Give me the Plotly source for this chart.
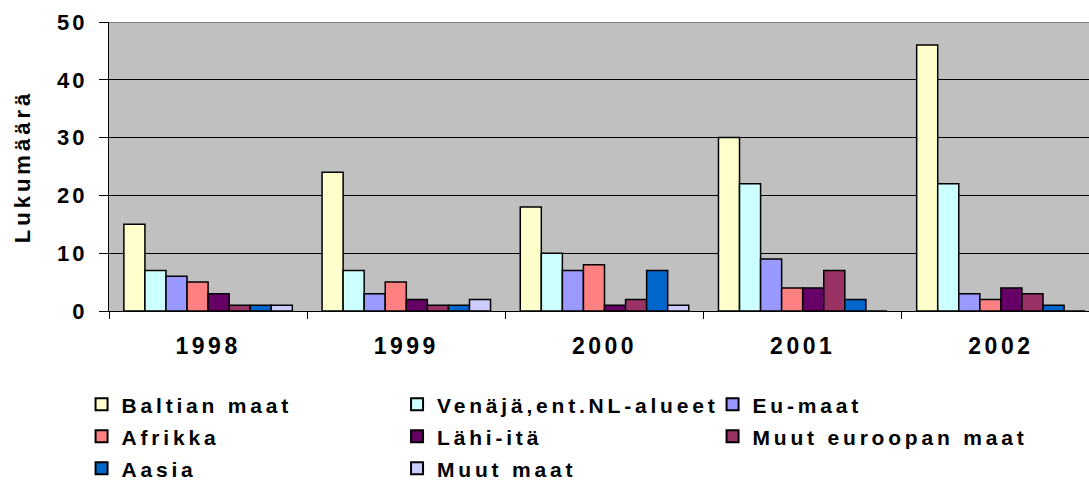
import plotly.graph_objects as go

years = ["1998", "1999", "2000", "2001", "2002"]
series_names = ["Baltian maat", "Venäjä,ent.NL-alueet", "Eu-maat", "Afrikka",
                "Lähi-itä", "Muut euroopan maat", "Aasia", "Muut maat"]
baltian = [15, 24, 18, 30, 46]
venaja = [7, 7, 10, 22, 22]
eu = [6, 3, 7, 9, 3]
afrikka = [5, 5, 8, 4, 2]
lahi_ita = [3, 2, 1, 4, 4]
muut_eur = [1, 1, 2, 7, 3]
aasia = [1, 1, 7, 2, 1]
muut_maat = [1, 2, 1, 0, 0]
y_ticks = [0, 10, 20, 30, 40, 50]
y_title = "Lukumäärä"

values = [baltian, venaja, eu, afrikka, lahi_ita, muut_eur, aasia, muut_maat]
colors = ["#FFFFCC", "#CCFFFF", "#9999FF", "#FF8080",
          "#660066", "#993366", "#0066CC", "#CCCCFF"]

FONT = "Liberation Sans"


def sp(t, ls, size=None):
    st = f"letter-spacing:{ls}px;font-weight:700"
    if size:
        st += f";font-size:{size}px"
    return f'<span style="{st}">{t}</span>'


fig = go.Figure()
for name, vals, col in zip(series_names, values, colors):
    fig.add_trace(go.Bar(
        x=years, y=vals, name=sp(name, 3.8, 21),
        marker=dict(color=col, line=dict(color="black", width=1.5)),
    ))

fig.update_layout(
    width=1089, height=487,
    margin=dict(l=109, r=0, t=22, b=176, autoexpand=False),
    paper_bgcolor="white",
    plot_bgcolor="#C0C0C0",
    barmode="group", bargap=0.15, bargroupgap=0,
    font=dict(family=FONT, size=20, color="black", weight=700),
    showlegend=True,
    legend=dict(
        orientation="h", x=-0.028, xanchor="left", y=-0.25, yanchor="top",
        entrywidth=270.5, entrywidthmode="pixels",
        font=dict(family=FONT, size=22.3, color="black", weight=700),
        traceorder="normal", tracegroupgap=0, itemsizing="constant",
        bgcolor="rgba(0,0,0,0)",
    ),
    xaxis=dict(
        range=[-0.5, 4.4445], automargin=False,
        tickmode="array", tickvals=years, ticktext=[sp(y, 3.5) for y in years],
        tickfont=dict(family=FONT, size=23, weight=700),
        tickson="boundaries", ticks="outside", ticklen=7, tickcolor="black",
        showline=True, linecolor="black", linewidth=1,
        showgrid=False, ticklabelstandoff=14,
    ),
    yaxis=dict(
        range=[0, 50], automargin=False,
        tickmode="array", tickvals=y_ticks, ticktext=[sp(str(v), 3) for v in y_ticks],
        tickfont=dict(family=FONT, size=22, weight=700),
        ticks="outside", ticklen=9, tickcolor="black",
        showline=True, linecolor="black", linewidth=1,
        showgrid=True, gridcolor="black", gridwidth=1,
        zeroline=False, ticklabelstandoff=7,
        title=dict(text=sp(y_title, 4), standoff=20,
                   font=dict(family=FONT, size=22, weight=700)),
    ),
    shapes=[dict(type="line", xref="paper", yref="y", x0=0, x1=1, y0=50, y1=50,
                 line=dict(color="#808080", width=2))],
)

fig.write_html("out.html", config={"displayModeBar": False},
               post_script="document.body.style.margin='0';")
